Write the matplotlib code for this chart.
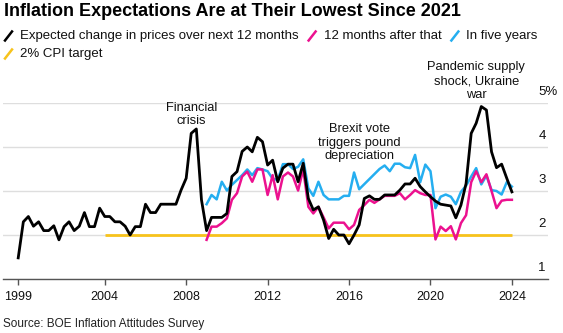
import pandas as pd
import matplotlib
matplotlib.use("Agg")
import matplotlib.pyplot as plt
from matplotlib import transforms
from matplotlib.lines import Line2D

plt.rcParams["font.family"] = ["Liberation Sans", "DejaVu Sans"]

# quarterly survey rounds, Nov 1999 .. Feb 2024
dates = pd.date_range("1999-11-01", "2024-02-01", freq="3MS")

# expected change in prices over the next 12 months (%)
next_12m = [
    1.48, 2.30, 2.42, 2.20, 2.30, 2.10, 2.10, 2.21, 1.89, 2.19,
    2.30, 2.10, 2.20, 2.51, 2.19, 2.19, 2.61, 2.42, 2.42, 2.30,
    2.30, 2.20, 2.00, 2.19, 2.19, 2.70, 2.51, 2.51, 2.70, 2.70,
    2.70, 2.70, 3.02, 3.29, 4.31, 4.41, 2.80, 2.10, 2.40, 2.40,
    2.40, 2.49, 3.33, 3.44, 3.90, 4.00, 3.89, 4.22, 4.12, 3.59,
    3.70, 3.21, 3.52, 3.61, 3.61, 3.21, 3.63, 2.83, 2.57, 2.64,
    2.34, 1.92, 2.13, 2.00, 2.00, 1.80, 2.00, 2.23, 2.83, 2.89,
    2.81, 2.81, 2.91, 2.91, 2.91, 3.02, 3.16, 3.16, 3.29, 3.10,
    2.98, 2.87, 2.77, 2.70, 2.68, 2.66, 2.39, 2.68, 3.17, 4.31,
    4.54, 4.92, 4.84, 3.89, 3.53, 3.61, 3.29, 2.98,
]

# the 12 months after that (%), asked from Aug 2009
after_12m = [None] * 37 + [
    1.89, 2.19, 2.19, 2.27, 2.38, 2.80, 2.95, 3.33, 3.44, 3.21,
    3.49, 3.49, 2.91, 3.36, 2.81, 3.33, 3.42, 3.33, 3.01, 3.49,
    2.64, 2.49, 2.64, 2.40, 2.15, 2.28, 2.28, 2.28, 2.13, 2.23,
    2.57, 2.68, 2.80, 2.73, 2.81, 2.89, 2.89, 2.89, 2.95, 2.81,
    2.91, 3.02, 2.95, 2.91, 2.91, 1.90, 2.19, 2.09, 2.20, 1.90,
    2.27, 2.45, 3.20, 3.45, 3.20, 3.38, 3.00, 2.61, 2.78, 2.80,
    2.80,
]

# in five years (%), some rounds missing
five_years = [None] * 37 + [
    2.70, 2.91, 2.81, 3.21, 3.01, 3.14, 3.25, 3.36, 3.49, 3.36,
    3.52, 3.49, 3.45, 3.28, 3.25, 3.61, 3.61, 3.50, 3.55, 3.72,
    3.06, 2.89, 3.21, 2.91, 2.81, 2.81, 2.81, 2.89, 2.89, 3.42,
    3.04, None, None, None, 3.50, 3.58, 3.45, 3.62, 3.62, 3.54,
    3.52, 3.82, 3.20, 3.60, 3.45, 2.61, 2.87, 2.92, 2.87, 2.70,
    2.98, 3.12, 3.33, 3.52, 3.15, 3.35, 3.02, 3.00, 2.92, 3.20,
    3.10,
]

target_dates = ["2004-02-01", "2024-02-01"]
target_value = 2.0

tick_dates = ["1999-11-01", "2004-02-01", "2008-02-01", "2012-02-01",
              "2016-02-01", "2020-02-01", "2024-02-01"]
tick_labels = ["1999", "2004", "2008", "2012", "2016", "2020", "2024"]

y_ticks = [1, 2, 3, 4, 5]
y_labels = ["1", "2", "3", "4", "5%"]

BLACK = "#000000"
PINK = "#ec118f"
BLUE = "#25aef0"
YELLOW = "#f7c31c"

W, H = 563, 333
fig = plt.figure(figsize=(W / 100, H / 100), dpi=100)
ax = fig.add_axes([3 / W, 54 / H, 545 / W, 176 / H])


def fpos(x, y):
    # pixel position (from top-left) -> figure fraction
    return x / W, 1 - y / H


ax.plot(pd.to_datetime(target_dates), [target_value] * 2, color=YELLOW, lw=2.0,
        solid_capstyle="butt")
s5 = pd.Series(five_years, index=dates, dtype=float).dropna()
ax.plot(s5.index, s5.values, color=BLUE, lw=1.8)
s2 = pd.Series(after_12m, index=dates, dtype=float).dropna()
ax.plot(s2.index, s2.values, color=PINK, lw=1.8)
ax.plot(dates, next_12m, color=BLACK, lw=2.0)

ax.set_xlim(pd.Timestamp("1999-02-01"), pd.Timestamp("2025-11-10"))
ax.set_ylim(1, 5)
ax.set_yticks(y_ticks)
ax.grid(axis="y", color="#dedede", lw=1)
ax.tick_params(axis="y", length=0, labelleft=False)
ax.set_xticks(pd.to_datetime(tick_dates))
ax.set_xticklabels(tick_labels)
ax.tick_params(axis="x", length=4, width=1, color="#555555", labelsize=9,
               pad=5, labelcolor="#111111")
for side in ["left", "right", "top"]:
    ax.spines[side].set_visible(False)
ax.spines["bottom"].set_color("#555555")
ax.spines["bottom"].set_linewidth(1)
ax.set_axisbelow(True)

# value labels sit just above their gridlines, at the right edge
lab_tr = transforms.offset_copy(
    transforms.blended_transform_factory(ax.transAxes, ax.transData),
    fig=fig, x=0, y=11, units="dots")
for v, lab in zip(y_ticks, y_labels):
    ax.text(0.982, v, lab, transform=lab_tr, ha="left", va="center",
            fontsize=9.5, color="#111111", clip_on=False)

# event notes
note_kw = dict(ha="center", va="center", fontsize=9.3, color="#111111",
               linespacing=1.2, clip_on=False)
ax.text(pd.Timestamp("2008-05-01"), 4.74, "Financial\ncrisis", **note_kw)
ax.text(pd.Timestamp("2016-08-01"), 4.10, "Brexit vote\ntriggers pound\ndepreciation",
        **note_kw)
ax.text(pd.Timestamp("2022-05-01"), 5.50, "Pandemic supply\nshock, Ukraine\nwar",
        **note_kw)

# title
fig.text(*fpos(4, 12), "Inflation Expectations Are at Their Lowest Since 2021",
         ha="left", va="center", fontsize=13, fontweight="bold", color="#000000")

# legend with slash markers
fig.canvas.draw()
renderer = fig.canvas.get_renderer()


def legend_item(x, y, color, label):
    x0, y0 = fpos(x, y + 4.5)
    x1, y1 = fpos(x + 7, y - 4.5)
    fig.add_artist(Line2D([x0, x1], [y0, y1], transform=fig.transFigure,
                          color=color, lw=1.8))
    t = fig.text(*fpos(x + 15, y), label, ha="left", va="center",
                 fontsize=9.5, color="#111111")
    bb = t.get_window_extent(renderer=renderer)
    return bb.x1


x_end = legend_item(5, 36, BLACK, "Expected change in prices over next 12 months")
x_end = legend_item(x_end + 10, 36, PINK, "12 months after that")
x_end = legend_item(x_end + 10, 36, BLUE, "In five years")
legend_item(5, 54, YELLOW, "2% CPI target")

fig.text(*fpos(3, 324), "Source: BOE Inflation Attitudes Survey", ha="left",
         va="center", fontsize=8.5, color="#222222")

fig.savefig("out.png", dpi=100)
